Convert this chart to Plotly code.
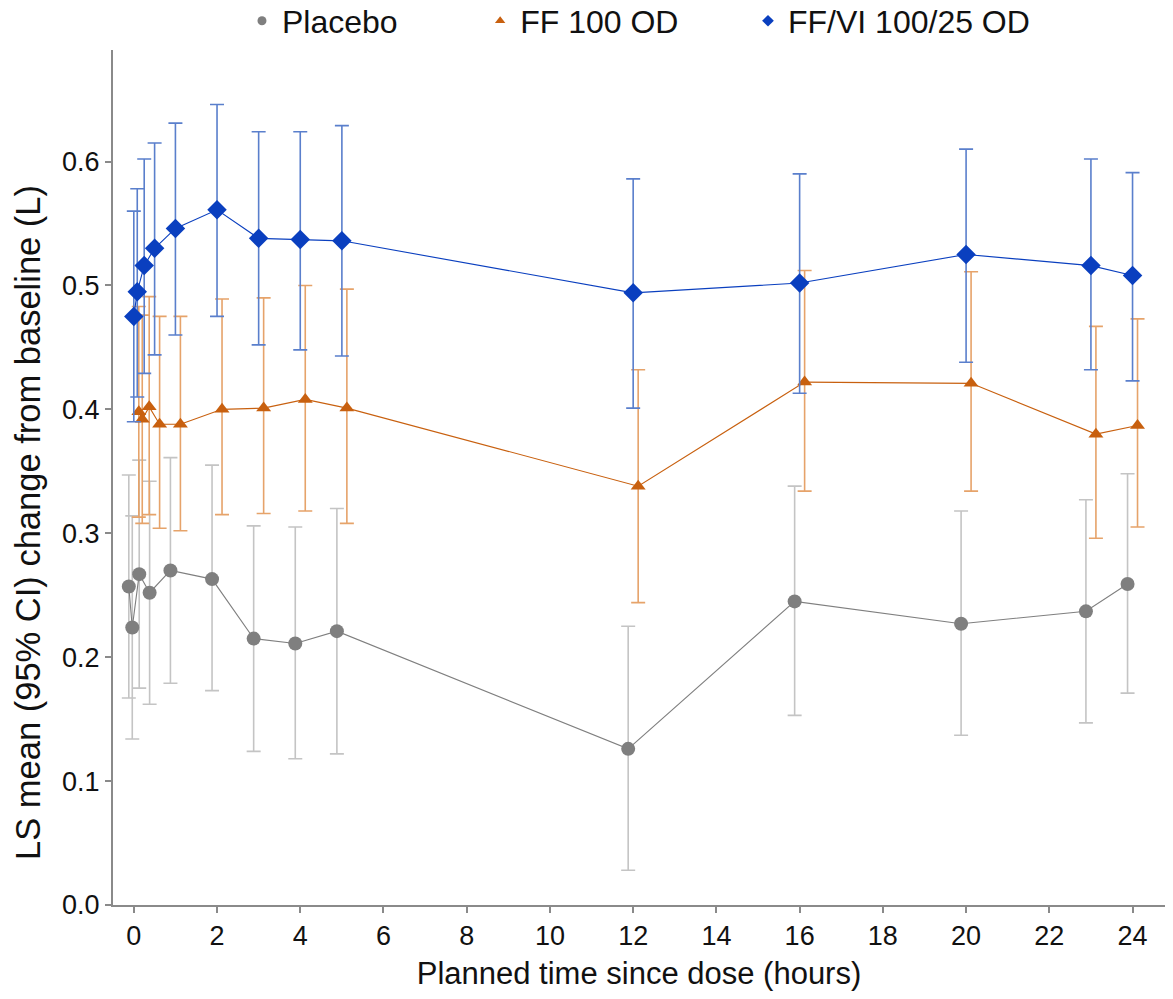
import plotly.graph_objects as go

# Planned sampling times (hours since dose)
hours = [0, 0.083, 0.25, 0.5, 1, 2, 3, 4, 5, 12, 16, 20, 23, 24]

# LS mean change from baseline (L) with 95% CI bounds
placebo_mean = [0.257, 0.224, 0.267, 0.252, 0.270, 0.263, 0.215, 0.211, 0.221, 0.126, 0.245, 0.227, 0.237, 0.259]
placebo_lo = [0.167, 0.134, 0.175, 0.162, 0.179, 0.173, 0.124, 0.118, 0.122, 0.028, 0.153, 0.137, 0.147, 0.171]
placebo_hi = [0.347, 0.314, 0.359, 0.342, 0.361, 0.355, 0.306, 0.305, 0.320, 0.225, 0.338, 0.318, 0.327, 0.348]

ff_mean = [0.398, 0.392, 0.402, 0.388, 0.388, 0.400, 0.401, 0.408, 0.401, 0.338, 0.422, 0.421, 0.380, 0.387]
ff_lo = [0.313, 0.308, 0.315, 0.304, 0.302, 0.315, 0.316, 0.318, 0.308, 0.244, 0.334, 0.334, 0.296, 0.305]
ff_hi = [0.483, 0.476, 0.491, 0.475, 0.475, 0.489, 0.490, 0.500, 0.497, 0.432, 0.512, 0.511, 0.467, 0.473]

ffvi_mean = [0.475, 0.495, 0.516, 0.530, 0.546, 0.561, 0.538, 0.537, 0.536, 0.494, 0.502, 0.525, 0.516, 0.508]
ffvi_lo = [0.390, 0.410, 0.429, 0.444, 0.460, 0.475, 0.452, 0.448, 0.443, 0.401, 0.413, 0.438, 0.432, 0.423]
ffvi_hi = [0.560, 0.578, 0.602, 0.615, 0.631, 0.646, 0.624, 0.624, 0.629, 0.586, 0.590, 0.610, 0.602, 0.591]

x_ticks = list(range(0, 25, 2))
y_ticks = [0.0, 0.1, 0.2, 0.3, 0.4, 0.5, 0.6]

FONT = "Liberation Sans, Arial, sans-serif"
TEXT = "#111111"

# name, mean, lower, upper, horizontal dodge (h), marker colour, bar colour, symbol, size
series = [
    ("Placebo", placebo_mean, placebo_lo, placebo_hi, -0.12, "#7f7f7f", "#c4c4c4", "circle", 14),
    ("FF 100 OD", ff_mean, ff_lo, ff_hi, 0.12, "#c8600f", "#e6a36a", "triangle-up", 13),
    ("FF/VI 100/25 OD", ffvi_mean, ffvi_lo, ffvi_hi, 0.0, "#0a3fbf", "#5a7fcc", "diamond", 15),
]

fig = go.Figure()

for name, mean, lo, hi, dodge, mcol, ecol, sym, size in series:
    xs = [h + dodge for h in hours]
    fig.add_trace(go.Scatter(
        x=xs, y=mean, mode="lines+markers", name=name, showlegend=False,
        line=dict(color=mcol, width=1.1),
        marker=dict(symbol=sym, size=size, color=mcol, line=dict(width=0)),
        error_y=dict(
            type="data", symmetric=False,
            array=[h_ - m for h_, m in zip(hi, mean)],
            arrayminus=[m - l for m, l in zip(mean, lo)],
            color=ecol, thickness=1.6, width=7,
        ),
    ))

# Legend entries, one legend box per series across the top
legend_x = [0.1226, 0.349, 0.6036]
for i, (name, mean, lo, hi, dodge, mcol, ecol, sym, size) in enumerate(series):
    key = "legend" if i == 0 else f"legend{i + 1}"
    fig.add_trace(go.Scatter(
        x=[None], y=[None], mode="markers", name=name, legend=key,
        marker=dict(symbol=sym, size=9, color=mcol),
    ))

legend_common = dict(
    orientation="h", yanchor="middle", y=1.034, xanchor="left",
    font=dict(family=FONT, size=32, color=TEXT), bgcolor="rgba(0,0,0,0)",
    itemwidth=30,
)
fig.update_layout(
    legend=dict(x=legend_x[0], **legend_common),
    legend2=dict(x=legend_x[1], **legend_common),
    legend3=dict(x=legend_x[2], **legend_common),
)

axis_common = dict(
    showgrid=False, zeroline=False, showline=True, linecolor="#8a8a8a", linewidth=2,
    ticks="outside", ticklen=6, tickwidth=1.5, tickcolor="#8a8a8a",
    tickfont=dict(family=FONT, size=27, color=TEXT),
)

fig.update_xaxes(
    range=[-0.5, 24.78], tickvals=x_ticks, ticktext=[str(t) for t in x_ticks],
    title=dict(text="Planned time since dose (hours)", standoff=12,
               font=dict(family=FONT, size=31, color=TEXT)),
    **axis_common,
)
fig.update_yaxes(
    range=[0, 0.69], tickvals=y_ticks, ticktext=[f"{t:.1f}" for t in y_ticks],
    **axis_common,
)

# Y-axis title placed as a rotated annotation, sitting slightly below the axis midpoint
fig.add_annotation(
    text="LS mean (95% CI) change from baseline (L)",
    xref="paper", yref="paper", x=-0.0808, y=0.448,
    xanchor="center", yanchor="middle", textangle=-90, showarrow=False,
    font=dict(family=FONT, size=34.5, color=TEXT),
)

fig.update_layout(
    width=1173, height=999,
    margin=dict(l=113, r=8, t=50, b=94, autoexpand=False),
    plot_bgcolor="white", paper_bgcolor="white",
    font=dict(family=FONT, color=TEXT),
)

fig.write_html("out.html")
